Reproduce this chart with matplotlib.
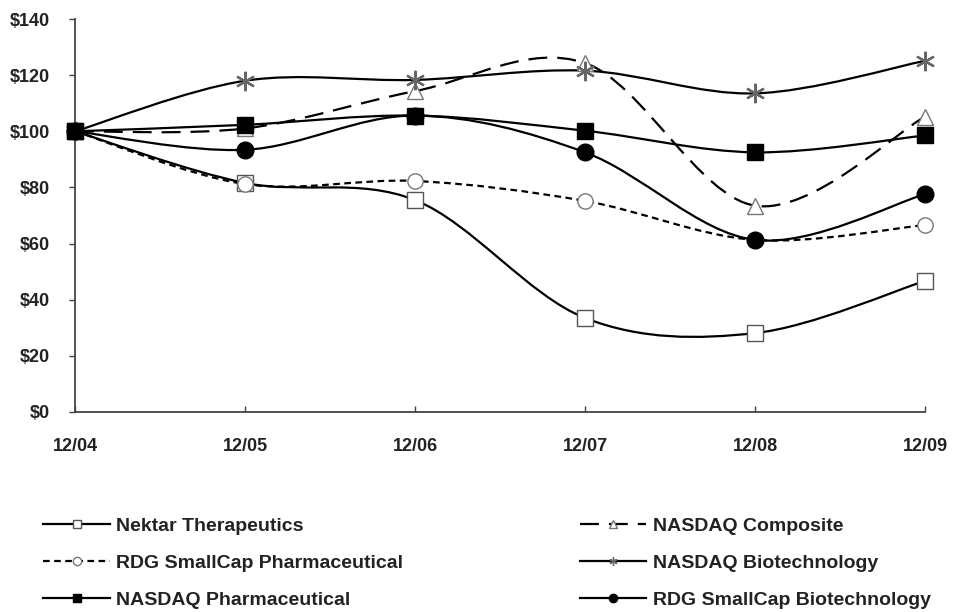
import matplotlib
matplotlib.use("Agg")
import matplotlib.pyplot as plt
from matplotlib.path import Path
from matplotlib.patches import PathPatch
from matplotlib.lines import Line2D

plt.rcParams['font.family'] = ['Liberation Sans', 'DejaVu Sans']

# datos
periods = ['12/04', '12/05', '12/06', '12/07', '12/08', '12/09']
nektar = [100, 81.6, 75.5, 33.5, 28.1, 46.7]
nasdaq_comp = [100, 101.0, 114.3, 124.3, 73.5, 105.2]
rdg_pharma = [100, 81.2, 82.3, 75.2, 61.3, 66.6]
nasdaq_biotech = [100, 118.0, 118.3, 121.6, 113.5, 125.1]
nasdaq_pharma = [100, 102.3, 105.6, 100.2, 92.5, 98.5]
rdg_biotech = [100, 93.4, 105.6, 92.5, 61.3, 77.6]

series = [
    ('Nektar Therapeutics', nektar, '-', 's', 'white', '#555555', 11),
    ('NASDAQ Composite', nasdaq_comp, (0, (8.5, 4.5)), '^', 'white', '#777777', 11),
    ('RDG SmallCap Pharmaceutical', rdg_pharma, (0, (3, 2)), 'o', 'white', '#777777', 11),
    ('NASDAQ Biotechnology', nasdaq_biotech, '-', (6, 2, 0), 'none', '#666666', 14),
    ('NASDAQ Pharmaceutical', nasdaq_pharma, '-', 's', 'black', 'black', 12),
    ('RDG SmallCap Biotechnology', rdg_biotech, '-', 'o', 'black', 'black', 12),
]


def smooth_path(xs, ys):
    # curva suavizada tipo Excel (Bezier con tangentes Catmull-Rom)
    pts = list(zip(xs, ys))
    verts = [pts[0]]
    codes = [Path.MOVETO]
    n = len(pts)
    for i in range(n - 1):
        p0 = pts[max(i - 1, 0)]
        p1 = pts[i]
        p2 = pts[i + 1]
        p3 = pts[min(i + 2, n - 1)]
        c1 = (p1[0] + (p2[0] - p0[0]) / 6, p1[1] + (p2[1] - p0[1]) / 6)
        c2 = (p2[0] - (p3[0] - p1[0]) / 6, p2[1] - (p3[1] - p1[1]) / 6)
        verts += [c1, c2, p2]
        codes += [Path.CURVE4] * 3
    return Path(verts, codes)


fig = plt.figure(figsize=(9.54, 6.12), dpi=100)
ax = fig.add_axes([75 / 954, 1 - 412 / 612, 850 / 954, 393 / 612])

x = list(range(len(periods)))
handles = []
for name, vals, ls, mk, fc, ec, ms in series:
    patch = PathPatch(smooth_path(x, vals), facecolor='none', edgecolor='black',
                      linewidth=1.6, linestyle=ls, zorder=2)
    ax.add_patch(patch)
    mew = 1.6 if mk == (6, 2, 0) else 1.0
    ax.plot(x, vals, linestyle='none', marker=mk, markersize=ms,
            markerfacecolor=fc, markeredgecolor=ec, markeredgewidth=mew,
            zorder=3, clip_on=False)
    handles.append(Line2D([], [], color='black', linewidth=1.6, linestyle=ls,
                          marker=mk, markersize=6, markerfacecolor=fc,
                          markeredgecolor=ec, markeredgewidth=1.0, label=name))

ax.set_xlim(0, 5)
ax.set_ylim(0, 140)
ax.set_xticks(x)
ax.set_xticklabels(periods)
ax.set_yticks(range(0, 141, 20))
ax.set_yticklabels(['$' + str(v) for v in range(0, 141, 20)])
for s in ['top', 'right']:
    ax.spines[s].set_visible(False)
for s in ['left', 'bottom']:
    ax.spines[s].set_color('#444444')
    ax.spines[s].set_linewidth(1.3)
ax.tick_params(axis='x', direction='in', length=4, width=1, color='#444444',
               pad=19, labelsize=13)
ax.tick_params(axis='y', direction='out', length=4, width=1, color='#444444',
               pad=14, labelsize=13)
for t in ax.get_xticklabels() + ax.get_yticklabels():
    t.set_color('#222222')
    t.set_fontweight('bold')

# leyenda: filas ordenadas como en el original
order = [0, 2, 4, 1, 3, 5]
leg = fig.legend([handles[i] for i in order], [handles[i].get_label() for i in order],
                 ncol=2, loc='upper left', bbox_to_anchor=(26 / 954, 1 - 500 / 612),
                 frameon=False, handlelength=3.4, handletextpad=0.35,
                 columnspacing=9.1, labelspacing=1.0,
                 prop={'size': 14, 'weight': 'bold'})
for t in leg.get_texts():
    t.set_color('#222222')

fig.savefig('out.png', dpi=100)
